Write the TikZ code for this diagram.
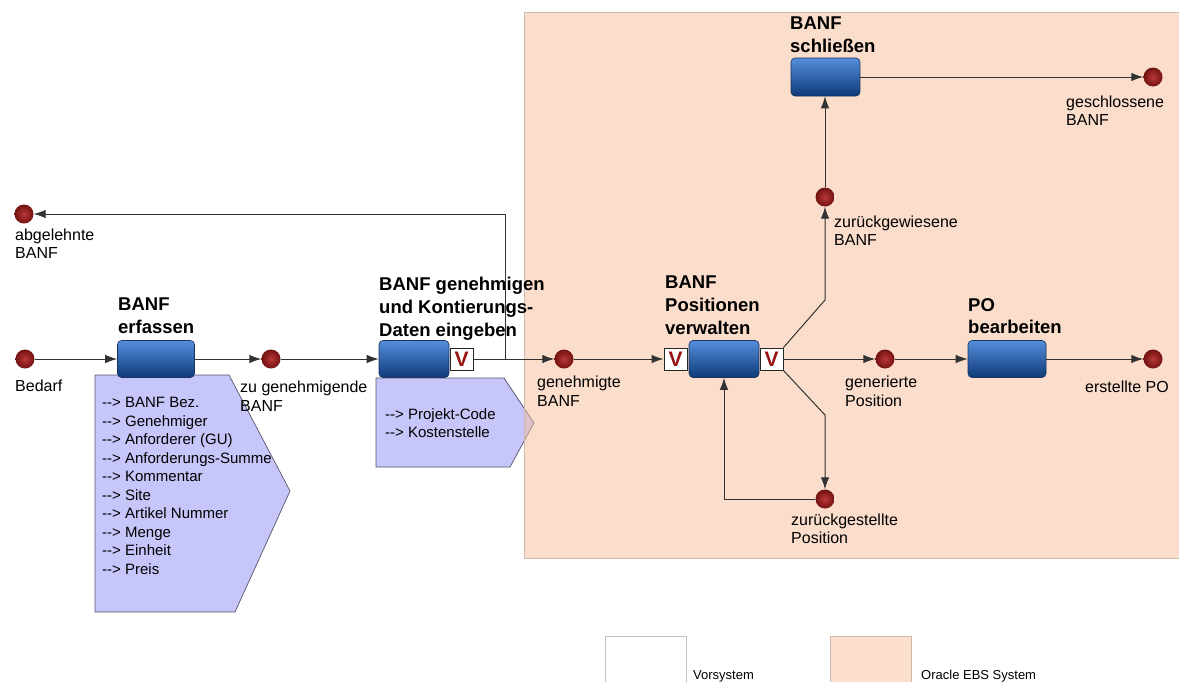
\documentclass[tikz,border=0pt]{standalone}
\usepackage{fontspec}
\setmainfont{Liberation Sans}
\usetikzlibrary{arrows.meta}
\definecolor{ebs}{RGB}{249,189,153}
\definecolor{ebsleg}{RGB}{252,222,204}
\definecolor{ebsline}{RGB}{205,185,175}
\definecolor{lav}{RGB}{198,198,250}
\definecolor{lavline}{RGB}{85,85,105}
\definecolor{lncol}{RGB}{50,50,50}
\definecolor{boxtop}{RGB}{84,142,220}
\definecolor{boxbot}{RGB}{14,58,120}
\definecolor{boxdraw}{RGB}{25,50,95}
\definecolor{evin}{RGB}{185,55,55}
\definecolor{evout}{RGB}{115,18,18}
\definecolor{vred}{RGB}{150,20,20}
\newcommand\lblfont{\fontsize{16}{18.5}\selectfont}
\newcommand\titfont{\fontsize{18.5}{22.8}\selectfont\bfseries}
\newcommand\datfont{\fontsize{15}{18.55}\selectfont}
\newcommand\legfont{\fontsize{13}{15}\selectfont}
\newcommand\arrw{\mbox{-}\mbox{-}>}
\tikzset{
  task/.style={draw=boxdraw, line width=0.6pt, rounded corners=4pt, top color=boxtop, bottom color=boxbot, inner sep=0pt, minimum height=37pt},
  event/.style={circle, inner sep=0pt, minimum size=19pt, inner color=evin, outer color=evout},
  vbox/.style={draw=black!85, fill=white, line width=0.9pt, minimum width=23pt, minimum height=22pt, inner sep=0pt, font=\fontsize{21}{21}\selectfont\bfseries, text=vred},
  flow/.style={draw=lncol, line width=1pt, -{Latex[length=12pt,width=8.5pt]}},
  lbl/.style={anchor=north west, inner sep=0pt, align=left, font=\lblfont},
  ttl/.style={anchor=north west, inner sep=0pt, align=left, font=\titfont},
  dat/.style={anchor=north west, inner sep=0pt, align=left, font=\datfont},
  leg/.style={anchor=base west, inner sep=0pt, font=\legfont},
  datashape/.style={fill=lav, draw=lavline, line width=0.7pt}
}
\begin{document}
\begin{tikzpicture}[x=1pt,y=-1pt]
\useasboundingbox (0,0) rectangle (1179,681);
\fill[white] (0,0) rectangle (1179,681);

% data shapes
\draw[datashape] (95,375) -- (229,375) -- (290,491) -- (235,612) -- (95,612) -- cycle;
\draw[datashape] (376,378) -- (504,378) -- (534,423) -- (510,467) -- (376,467) -- cycle;

% Oracle EBS region
\fill[ebs, fill opacity=0.5] (524,12) rectangle (1182,558);
\draw[ebsline, line width=0.6pt] (1182,12) -- (524,12) -- (524,558) -- (1182,558);

% data texts
\node[dat] (dat1) at (102,397) {\arrw{} BANF Bez.\\\arrw{} Genehmiger\\\arrw{} Anforderer (GU)\\\arrw{} Anforderungs-Summe\\\arrw{} Kommentar\\\arrw{} Site\\\arrw{} Artikel Nummer\\\arrw{} Menge\\\arrw{} Einheit\\\arrw{} Preis};
\node[dat] (dat2) at (385,408) {\arrw{} Projekt-Code\\\arrw{} Kostenstelle};

% tasks
\node[task, minimum width=77pt] (erf) at (156,359) {};
\node[task, minimum width=70pt] (gen) at (414,359) {};
\node[task, minimum width=70pt] (pos) at (724,359) {};
\node[task, minimum width=69pt, minimum height=38pt] (schl) at (825.5,77) {};
\node[task, minimum width=78pt] (po) at (1007,359) {};

% V boxes
\node[vbox] (v1) at (461.5,359) {V};
\node[vbox] (v2) at (675.5,359) {V};
\node[vbox] (v3) at (771.5,359) {V};

% events
\node[event] (bedarf) at (25,359) {};
\node[event] (zugen) at (271,359) {};
\node[event] (genehmigt) at (564,359) {};
\node[event] (generiert) at (885,359) {};
\node[event] (erstellt) at (1153,359) {};
\node[event] (abgelehnt) at (24,214) {};
\node[event] (gewiesen) at (825,197) {};
\node[event] (geschlossen) at (1153,77) {};
\node[event] (gestellt) at (825,499) {};

% titles
\node[ttl] (t1) at (118,298) {BANF\\erfassen};
\node[ttl] (t2) at (379,277) {BANF genehmigen\\und Kontierungs-\\Daten eingeben};
\node[ttl] (t3) at (665,276) {BANF\\Positionen\\verwalten};
\node[ttl] (t4) at (790,17) {BANF\\schließen};
\node[ttl] (t5) at (968,298) {PO\\bearbeiten};

% labels
\node[lbl] (l1) at (15,380) {Bedarf};
\node[lbl] (l2) at (240,381) {zu genehmigende\\BANF};
\node[lbl] (l3) at (537,376) {genehmigte\\BANF};
\node[lbl] (l4) at (15,228.5) {abgelehnte\\BANF};
\node[lbl] (l5) at (834,215.5) {zurückgewiesene\\BANF};
\node[lbl] (l6) at (1066,95.5) {geschlossene\\BANF};
\node[lbl] (l7) at (845,376) {generierte\\Position};
\node[lbl] (l8) at (1085,380.5) {erstellte PO};
\node[lbl] (l9) at (791,513.5) {zurückgestellte\\Position};

% connectors
\coordinate (up1) at (505,359);
\coordinate (d1) at (825,300);
\coordinate (d2) at (825,415);
\draw[flow] (bedarf) -- (erf);
\draw[flow] (erf) -- (zugen);
\draw[flow] (zugen) -- (gen);
\draw[flow] (v1.east) -- (genehmigt);
\draw[flow] (v1.east) -- (up1) |- (abgelehnt);
\draw[flow] (genehmigt) -- (v2);
\draw[flow] (v3.north east) -- (d1) -- (gewiesen);
\draw[flow] (gewiesen) -- (gewiesen |- schl.south);
\draw[flow] (schl) -- (geschlossen);
\draw[flow] (v3.east) -- (generiert);
\draw[flow] (generiert) -- (po);
\draw[flow] (po) -- (erstellt);
\draw[flow] (v3.south east) -- (d2) -- (gestellt);
\draw[flow] (gestellt.west) -| (pos.south);

% legend
\draw[black!25, fill=white, line width=0.6pt] (605,636) rectangle (686,690);
\draw[ebsline, fill=ebsleg, line width=0.6pt] (830,636) rectangle (911,690);
\node[leg] (lg1) at (693,679) {Vorsystem};
\node[leg] (lg2) at (921,679) {Oracle EBS System};
\end{tikzpicture}
\end{document}
